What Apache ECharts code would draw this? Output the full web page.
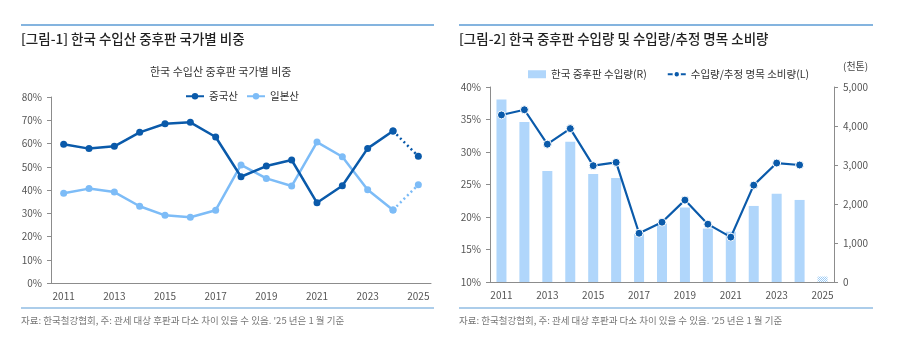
<!DOCTYPE html>
<html><head><meta charset="utf-8">
<script src="https://cdn.jsdelivr.net/npm/echarts@6/dist/echarts.min.js"></script>
<style>html,body{margin:0;padding:0;background:#fff}#c{width:923px;height:351px}</style>
</head><body><div id="c"></div>
<script>
const years = ['2011','2012','2013','2014','2015','2016','2017','2018','2019','2020','2021','2022','2023','2024','2025'];
const chinaShare = [59.7,57.8,58.8,64.8,68.5,69.1,62.8,45.7,50.3,52.9,34.5,41.8,57.9,65.4,54.5];
const japanShare = [38.6,40.6,39.1,33.0,29.1,28.3,31.3,50.8,45.0,41.7,60.6,54.3,40.1,31.4,42.3];
const importVol = [4680,4105,2845,3594,2768,2666,1230,1500,1910,1370,1290,1950,2265,2104,140];
const importRatio = [35.7,36.5,31.2,33.6,27.9,28.4,17.5,19.2,22.6,18.9,16.9,24.9,28.3,28.0,null];
const leftTicks = ['0%','10%','20%','30%','40%','50%','60%','70%','80%'];

const FONT = '"Noto Sans CJK KR","Noto Sans",sans-serif';
const DARK = '#0A5AAA', LIGHT = '#7DBCF7', BAR = '#B0D6FB';
const axisGray = '#8c8c8c', labelCol = '#555';

function tail(arr){ return arr.map((v,i)=> i>=arr.length-2 ? v : null); }
function body(arr){ return arr.map((v,i)=> i<=arr.length-2 ? v : null); }

const pc = document.createElement('canvas'); pc.width=2; pc.height=2;
const px = pc.getContext('2d'); px.fillStyle='#ffffff'; px.fillRect(0,0,2,2);
px.fillStyle='#9CCBF5'; px.fillRect(0,0,1,1); px.fillRect(1,1,1,1);
const barData = importVol.map((v,i)=> i===importVol.length-1 ? {value:v,itemStyle:{color:{image:pc,repeat:'repeat'}}} : v);

const chart = echarts.init(document.getElementById('c'));
const lineCommon = {type:'line', symbol:'circle', symbolSize:7, lineStyle:{width:2.5}, connectNulls:false, animation:false};
chart.setOption({
  animation:false,
  textStyle:{fontFamily:FONT},
  graphic:[
    {type:'line', shape:{x1:21,y1:25,x2:434,y2:25}, style:{stroke:'#5B9BD5',lineWidth:1.5}},
    {type:'line', shape:{x1:459,y1:25,x2:873,y2:25}, style:{stroke:'#5B9BD5',lineWidth:1.5}},
    {type:'text', left:21, top:32, style:{text:'[그림-1] 한국 수입산 중후판 국가별 비중', font:'500 13.5px '+FONT, fill:'#222'}},
    {type:'text', left:459, top:32, style:{text:'[그림-2] 한국 중후판 수입량 및 수입량/추정 명목 소비량', font:'500 13.5px '+FONT, fill:'#222'}},
    {type:'text', left:150, top:66, style:{text:'한국 수입산 중후판 국가별 비중', font:'11px '+FONT, fill:'#333'}},
    {type:'text', left:843, top:61, style:{text:'(천톤)', font:'10px '+FONT, fill:'#444'}},
    {type:'line', shape:{x1:21,y1:308,x2:434,y2:308}, style:{stroke:'#5B9BD5',lineWidth:1.2}},
    {type:'line', shape:{x1:459,y1:308,x2:873,y2:308}, style:{stroke:'#5B9BD5',lineWidth:1.2}},
    {type:'text', left:21, top:316, style:{text:'자료: 한국철강협회, 주: 관세 대상 후판과 다소 차이 있을 수 있음. \'25 년은 1 월 기준', font:'9.5px '+FONT, fill:'#777'}},
    {type:'text', left:459, top:316, style:{text:'자료: 한국철강협회, 주: 관세 대상 후판과 다소 차이 있을 수 있음. \'25 년은 1 월 기준', font:'9.5px '+FONT, fill:'#777'}}
  ],
  legend:[
    {left:180, top:86, itemWidth:18, itemHeight:8, itemGap:8, textStyle:{fontSize:10.5,color:'#333',fontFamily:FONT}, data:['중국산','일본산']},
    {left:523, top:64, itemWidth:18, itemHeight:8, itemGap:20, textStyle:{fontSize:10.5,color:'#333',fontFamily:FONT},
     data:[{name:'한국 중후판 수입량(R)', icon:'rect'}, '수입량/추정 명목 소비량(L)']}
  ],
  grid:[
    {left:51, right:492, top:97, bottom:68},
    {left:490, right:89, top:87, bottom:69}
  ],
  xAxis:[
    {type:'category', gridIndex:0, data:years, boundaryGap:true,
     axisLine:{lineStyle:{color:axisGray}}, axisTick:{interval:0, length:4, lineStyle:{color:axisGray}},
     axisLabel:{interval:1, color:labelCol, fontSize:10, margin:8}},
    {type:'category', gridIndex:1, data:years, boundaryGap:true,
     axisLine:{lineStyle:{color:axisGray}}, axisTick:{interval:0, length:4, lineStyle:{color:axisGray}},
     axisLabel:{interval:1, color:labelCol, fontSize:10, margin:8}}
  ],
  yAxis:[
    {type:'value', gridIndex:0, min:0, max:80, interval:10, splitLine:{show:false},
     axisLine:{show:true, lineStyle:{color:axisGray}}, axisTick:{show:true, length:4, lineStyle:{color:axisGray}},
     axisLabel:{color:labelCol, fontSize:10, margin:9, formatter:(v)=>leftTicks[Math.round(v/10)]}},
    {type:'value', gridIndex:1, min:10, max:40, interval:5, splitLine:{show:false},
     axisLine:{show:true, lineStyle:{color:axisGray}}, axisTick:{show:true, length:4, lineStyle:{color:axisGray}},
     axisLabel:{color:labelCol, fontSize:10, margin:9, formatter:'{value}%'}},
    {type:'value', gridIndex:1, position:'right', min:0, max:5000, interval:1000, splitLine:{show:false},
     axisLine:{show:true, lineStyle:{color:axisGray}}, axisTick:{show:true, length:4, lineStyle:{color:axisGray}},
     axisLabel:{color:labelCol, fontSize:10, margin:9, formatter:(v)=>v.toLocaleString('en-US')}}
  ],
  series:[
    Object.assign({}, lineCommon, {name:'중국산', xAxisIndex:0, yAxisIndex:0, data:body(chinaShare), itemStyle:{color:DARK}, lineStyle:{width:2.5,color:DARK}, z:3}),
    Object.assign({}, lineCommon, {name:'중국산', xAxisIndex:0, yAxisIndex:0, data:tail(chinaShare), itemStyle:{color:DARK}, lineStyle:{width:2.5,color:DARK,type:[2,3]}, z:3}),
    Object.assign({}, lineCommon, {name:'일본산', xAxisIndex:0, yAxisIndex:0, data:body(japanShare), itemStyle:{color:LIGHT}, lineStyle:{width:2.5,color:LIGHT}, z:2}),
    Object.assign({}, lineCommon, {name:'일본산', xAxisIndex:0, yAxisIndex:0, data:tail(japanShare), itemStyle:{color:LIGHT}, lineStyle:{width:2.5,color:LIGHT,type:[2,3]}, z:2}),
    {name:'한국 중후판 수입량(R)', type:'bar', xAxisIndex:1, yAxisIndex:2, data:barData, barWidth:10, itemStyle:{color:BAR}, animation:false},
    Object.assign({}, lineCommon, {name:'수입량/추정 명목 소비량(L)', xAxisIndex:1, yAxisIndex:1, data:importRatio,
      itemStyle:{color:DARK, borderColor:'#fff', borderWidth:1}, symbolSize:8, lineStyle:{width:2.2,color:DARK}, z:4})
  ]
});
</script></body></html>
